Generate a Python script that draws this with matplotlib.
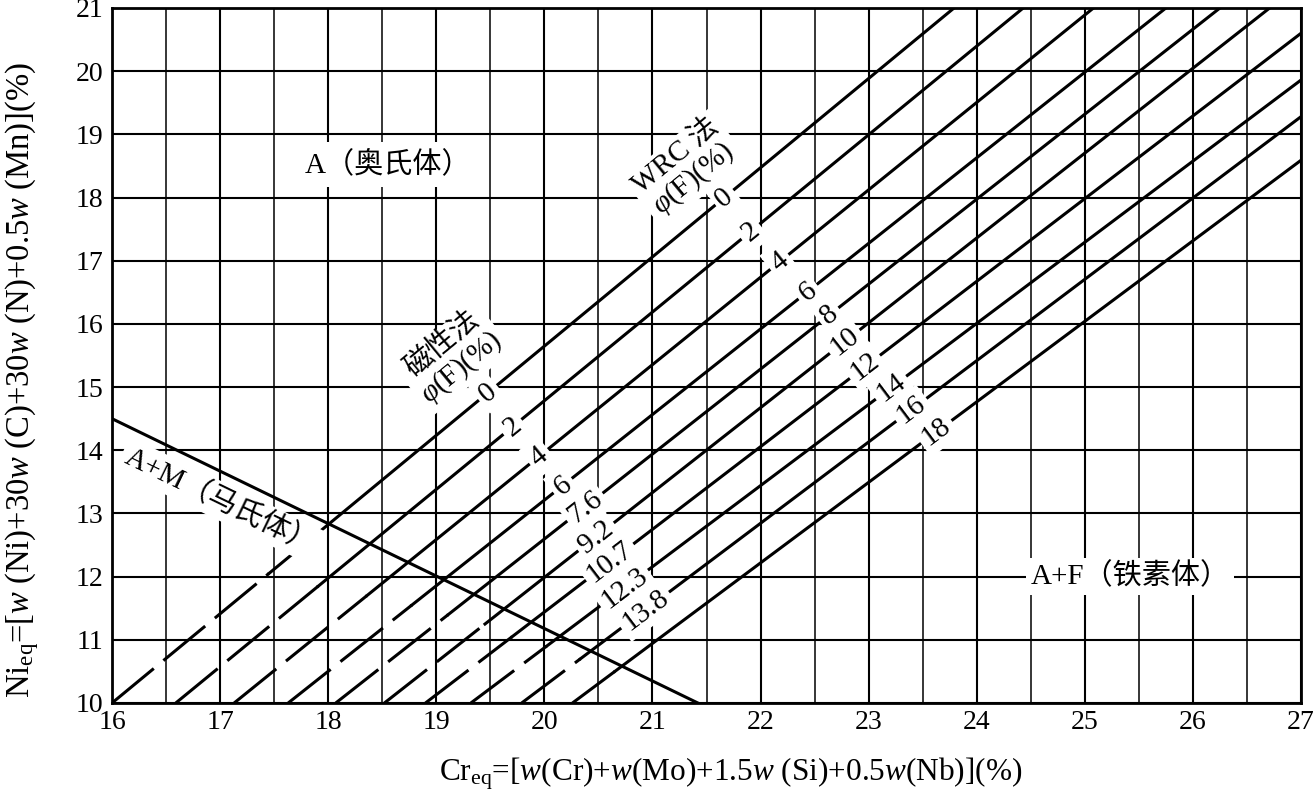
import numpy as np
import matplotlib
matplotlib.use('Agg')
import matplotlib.pyplot as plt

plt.rcParams['font.family'] = ['Liberation Serif', 'Noto Sans CJK SC']
plt.rcParams['mathtext.fontset'] = 'custom'
plt.rcParams['mathtext.rm'] = 'Liberation Serif'
plt.rcParams['mathtext.it'] = 'Liberation Serif:italic'
plt.rcParams['lines.scale_dashes'] = False

# ---- data ----
wrc_labels = ['0', '2', '4', '6', '8', '10', '12', '14', '16', '18']
mag_labels = ['0', '2', '4', '6', '7.6', '9.2', '10.7', '12.3', '13.8']
x_bottom = [16.0, 16.59, 17.13, 17.63, 18.07, 18.52, 18.90, 19.32, 19.79, 20.26]   # Cr_eq at Ni_eq = 10
x_end = [23.79, 24.43, 25.08, 25.75, 26.25, 26.71, 27.0, 27.0, 27.0, 27.0]
y_end = [21.0, 21.0, 21.0, 21.0, 21.0, 21.0, 20.60, 19.86, 19.28, 18.59]
y_solid = [12.05, 11.85, 11.7, 11.55, 11.4, 11.25, 11.05, 10.9, 10.7, 10.5]   # dashed below
wrc_label_y = [18.0, 17.46, 16.98, 16.51, 16.14, 15.72, 15.32, 14.99, 14.64, 14.29]
mag_label_y = [14.91, 14.37, 13.9, 13.44, 13.1, 12.63, 12.23, 11.82, 11.47]
am_x = [16.0, 21.42]
am_y = [14.5, 10.0]

xticks = list(range(16, 28))
yticks = list(range(10, 22))

fig = plt.figure(figsize=(13.14, 7.93), dpi=100)
ax = fig.add_axes([112 / 1314, 1 - 703 / 793, (1301 - 112) / 1314, (703 - 8) / 793])
ax.set_xlim(16, 27)
ax.set_ylim(10, 21)

ax.set_xticks(xticks)
ax.set_yticks(yticks)
ax.set_xticks(np.arange(16.5, 27, 1.0), minor=True)
ax.tick_params(which='both', length=0)
ax.tick_params(axis='x', pad=5, labelsize=20)
ax.tick_params(axis='y', pad=6, labelsize=20)
ax.grid(which='major', axis='both', color='black', lw=1.5)
ax.grid(which='minor', axis='x', color='black', lw=1.1)
ax.set_axisbelow(True)
for s in ax.spines.values():
    s.set_linewidth(2.0)

def line_angle(x0, y0, x1, y1):
    p = ax.transData.transform([[x0, y0], [x1, y1]])
    return np.degrees(np.arctan2(p[1, 1] - p[0, 1], p[1, 0] - p[0, 0]))

bbox = dict(boxstyle='square,pad=0.15', fc='white', ec='none')

for i in range(len(x_bottom)):
    x0, y0 = x_bottom[i], 10.0
    x1, y1 = x_end[i], y_end[i]
    k = (y1 - y0) / (x1 - x0)
    xs = x0 + (y_solid[i] - y0) / k
    ax.plot([x0, xs], [y0, y_solid[i]], color='black', lw=2.2,
            linestyle=(0, (39, 9)), solid_capstyle='butt', zorder=3)
    ax.plot([xs, x1], [y_solid[i], y1], color='black', lw=2.2, zorder=3)
    ang = line_angle(x0, y0, x1, y1)
    yl = wrc_label_y[i]
    ax.text(x0 + (yl - y0) / k, yl, wrc_labels[i], fontsize=21, rotation=ang,
            rotation_mode='anchor', ha='center', va='center', bbox=bbox, zorder=6)
    if i < len(mag_labels):
        yl = mag_label_y[i]
        ax.text(x0 + (yl - y0) / k, yl, mag_labels[i], fontsize=21, rotation=ang,
                rotation_mode='anchor', ha='center', va='center', bbox=bbox, zorder=6)

# A+M boundary
ax.plot(am_x, am_y, color='black', lw=2.2, zorder=3)
am_ang = line_angle(am_x[0], am_y[0], am_x[1], am_y[1])
ax.text(17.0, 13.2, 'A+M（马氏体）', fontsize=21, rotation=am_ang,
        rotation_mode='anchor', ha='center', va='center', bbox=bbox, zorder=6)

ang0 = line_angle(x_bottom[0], 10, x_end[0], y_end[0])
ax.text(21.30, 18.47, 'WRC 法\n$\\varphi$(F)(%)', fontsize=21, rotation=ang0,
        rotation_mode='anchor', ha='center', va='center', ma='center',
        linespacing=1.0, bbox=bbox, zorder=6)
ax.text(19.15, 15.48, '磁性法\n$\\varphi$(F)(%)', fontsize=21, rotation=ang0,
        rotation_mode='anchor', ha='center', va='center', ma='center',
        linespacing=1.0, bbox=bbox, zorder=6)

ax.text(18.55, 18.52, 'A（奥氏体）', fontsize=21, ha='center', va='center',
        bbox=dict(boxstyle='square,pad=0.3', fc='white', ec='none'), zorder=6)
ax.text(25.42, 12.0, 'A+F（铁素体）', fontsize=21, ha='center', va='center',
        bbox=dict(boxstyle='square,pad=0.15', fc='white', ec='none'), zorder=6)

fig.text(731 / 1314, 1 - 774 / 793,
         r'Cr$_{\rm eq}$=[$w$(Cr)+$w$(Mo)+1.5$w$ (Si)+0.5$w$(Nb)](%)',
         fontsize=22.5, ha='center', va='center')
fig.text(22 / 1314, 1 - 380 / 793,
         r'Ni$_{\rm eq}$=[$w$ (Ni)+30$w$ (C)+30$w$ (N)+0.5$w$ (Mn)](%)',
         fontsize=23.5, ha='center', va='center', rotation=90)

fig.savefig('out.png', dpi=100)
